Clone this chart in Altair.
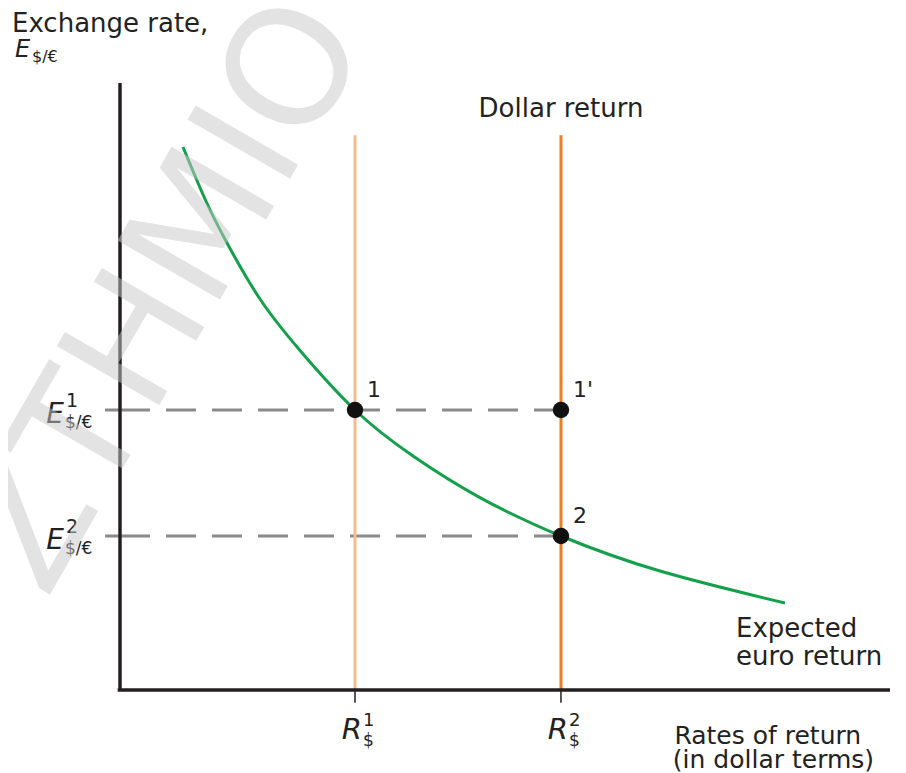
import altair as alt
import pandas as pd

# ---- values (abstract units 0..100 on both axes) ----
curve_x = [8.18, 11.04, 13.90, 18.18, 23.38, 30.52, 38.05, 46.75, 57.27, 70.13, 86.36]
curve_y = [89.46, 80.89, 73.64, 64.41, 55.93, 46.13, 38.55, 31.70, 25.37, 19.60, 14.33]

r_vals = [30.52, 57.27]        # R$^1, R$^2
r_sup = ["1", "2"]
r_line_top = [91.4, 91.4]
r_kind = ["R1", "R2"]

e_vals = [46.13, 25.37]        # E$/€^1, E$/€^2
e_sup = ["1", "2"]
e_dash_end = [57.27, 57.27]

point_x = [30.52, 57.27, 57.27]
point_y = [46.13, 46.13, 25.37]
point_labels = ["1", "1'", "2"]

FONT = "DejaVu Sans"
AX = "#231f20"
TXT = "#222222"

curve_df = pd.DataFrame({"x": curve_x, "y": curve_y})
r_df = pd.DataFrame({"x": r_vals, "y": [0, 0], "y2": r_line_top, "kind": r_kind, "sup": r_sup})
e_df = pd.DataFrame({"x": [0, 0], "x2": e_dash_end, "y": e_vals, "sup": e_sup})
p_df = pd.DataFrame({"x": point_x, "y": point_y, "label": point_labels})

xs = alt.Scale(domain=[0, 100], nice=False, zero=False)
ys = alt.Scale(domain=[0, 100], nice=False, zero=False)
X = alt.X("x:Q", scale=xs, axis=None)
Y = alt.Y("y:Q", scale=ys, axis=None)

# axes drawn as rules
y_axis = alt.Chart().mark_rule(color=AX, strokeWidth=3.5).encode(
    x=alt.datum(0, scale=xs, axis=None), y=alt.datum(0, scale=ys, axis=None), y2=alt.datum(100))
x_axis = alt.Chart().mark_rule(color=AX, strokeWidth=3.5).encode(
    x=alt.datum(-0.3, scale=xs, axis=None), x2=alt.datum(100), y=alt.datum(0, scale=ys, axis=None))
x_ticks = alt.Chart(r_df).mark_rule(color=AX, strokeWidth=1.5).encode(
    x=X, y=alt.datum(0, scale=ys, axis=None), y2=alt.datum(-2.1))
y_ticks = alt.Chart(e_df).mark_rule(color="#8a8a8a", strokeWidth=3).encode(
    x=alt.datum(-1.95, scale=xs, axis=None), x2=alt.datum(0), y=Y)

dashes = alt.Chart(e_df).mark_rule(color="#8a8a8a", strokeWidth=3, strokeDash=[30, 16]).encode(
    x=X, x2="x2:Q", y=Y)

vlines = alt.Chart(r_df).mark_rule(strokeWidth=3).encode(
    x=X, y=Y, y2="y2:Q",
    color=alt.Color("kind:N", scale=alt.Scale(domain=r_kind, range=["#f9b98a", "#f37b21"]), legend=None),
)

curve = alt.Chart(curve_df).mark_line(color="#14a04a", strokeWidth=3, interpolate="natural").encode(x=X, y=Y)

points = alt.Chart(p_df).mark_circle(color="#111111", opacity=1, size=270).encode(x=X, y=Y)

point_text = alt.Chart(p_df).mark_text(font=FONT, fontSize=22, color=TXT, align="left",
                                        baseline="alphabetic", dx=12, dy=-13).encode(
    x=X, y=Y, text="label:N")

# y-axis tick labels  E^n_{$/€}
e_big = alt.Chart(e_df).mark_text(font=FONT, fontSize=28, fontStyle="italic", color=TXT,
                                   align="right", baseline="alphabetic", dx=-56, dy=13).encode(
    x=alt.datum(0, scale=xs, axis=None), y=Y, text=alt.value("E"))
e_up = alt.Chart(e_df).mark_text(font=FONT, fontSize=19, color=TXT,
                                  align="left", baseline="alphabetic", dx=-54, dy=-3).encode(
    x=alt.datum(0, scale=xs, axis=None), y=Y, text="sup:N")
e_down = alt.Chart(e_df).mark_text(font=FONT, fontSize=17, color=TXT,
                                    align="left", baseline="alphabetic", dx=-55, dy=18).encode(
    x=alt.datum(0, scale=xs, axis=None), y=Y, text=alt.value("$/€"))

# x-axis tick labels  R^n_$
r_big = alt.Chart(r_df).mark_text(font=FONT, fontSize=29, fontStyle="italic", color=TXT,
                                   align="right", baseline="alphabetic", dx=7, dy=49).encode(
    x=X, y=alt.datum(0, scale=ys, axis=None), text=alt.value("R"))
r_up = alt.Chart(r_df).mark_text(font=FONT, fontSize=18, color=TXT,
                                  align="left", baseline="alphabetic", dx=8, dy=36).encode(
    x=X, y=alt.datum(0, scale=ys, axis=None), text="sup:N")
r_down = alt.Chart(r_df).mark_text(font=FONT, fontSize=17, color=TXT,
                                    align="left", baseline="alphabetic", dx=8, dy=56).encode(
    x=X, y=alt.datum(0, scale=ys, axis=None), text=alt.value("$"))


def label(text, x, y, size=26, align="left", dx=0, dy=0, style="normal"):
    return alt.Chart().mark_text(font=FONT, fontSize=size, color=TXT, align=align,
                                 baseline="alphabetic", dx=dx, dy=dy, fontStyle=style).encode(
        x=alt.datum(x, scale=xs, axis=None), y=alt.datum(y, scale=ys, axis=None), text=alt.value(text))


annotations = [
    label("Exchange rate,", 0, 100, dx=-108, dy=-51),
    label("E", 0, 100, size=24, style="italic", dx=-105, dy=-26),
    label("$/€", 0, 100, size=16, dx=-88, dy=-21),
    label("Dollar return", r_vals[1], 100, align="center", dy=34),
    label("Expected", 80.0, 8.7),
    label("euro return", 80.0, 4.1),
    label("Rates of return", 72.0, -8.9, size=25),
    label("(in dollar terms)", 71.8, -12.9, size=25),
]

watermark = alt.Chart().mark_text(font=FONT, fontSize=162, color="#c8c8c8", opacity=0.5,
                                   angle=300, align="center", baseline="middle").encode(
    x=alt.datum(5.9, scale=xs, axis=None), y=alt.datum(64.9, scale=ys, axis=None),
    text=alt.value("ZTHMIO"))

chart = alt.layer(
    dashes, vlines, curve, y_ticks, y_axis, x_axis, x_ticks, points, point_text,
    e_big, e_up, e_down, r_big, r_up, r_down,
    *annotations, watermark,
).properties(
    width=770, height=607,
    autosize=alt.AutoSizeParams(type="none"),
    padding={"left": 112, "top": 75, "right": 8, "bottom": 83},
    background="white",
).configure_view(stroke=None)

chart.save("out.html", embed_options={"renderer": "svg", "actions": False})
